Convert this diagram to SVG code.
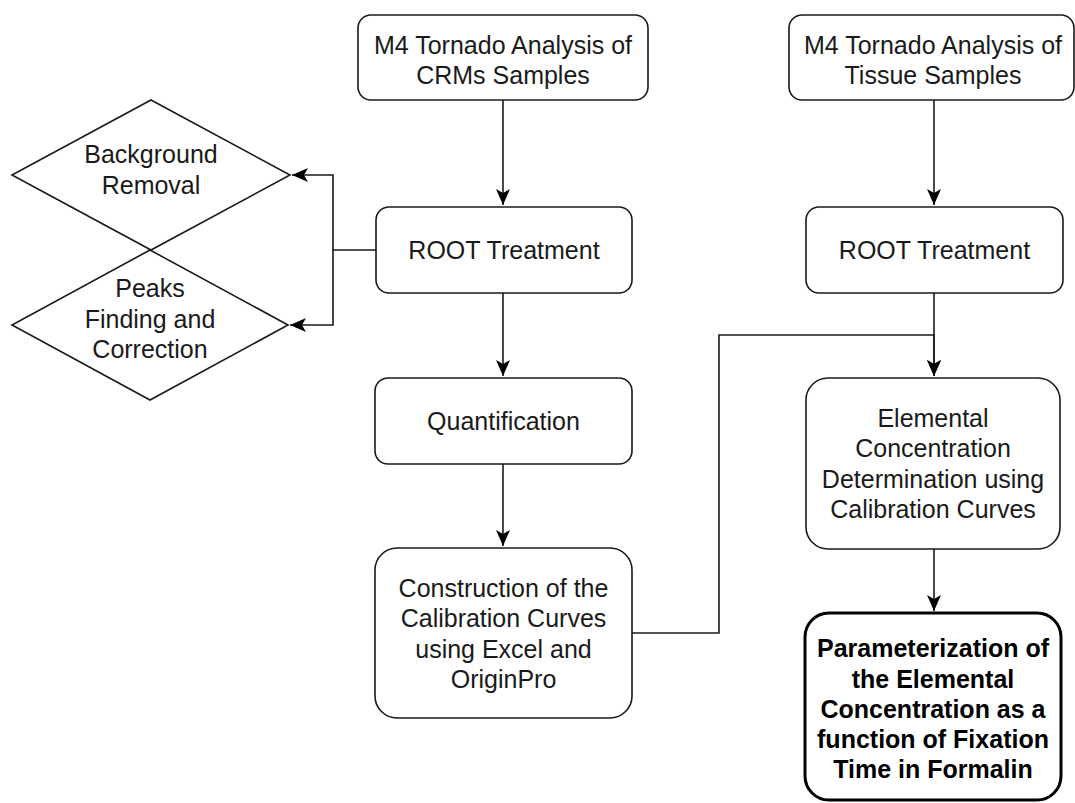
<svg xmlns="http://www.w3.org/2000/svg" width="1075" height="803" viewBox="0 0 1075 803">
<defs>
<style>
.box{fill:#fff;stroke:#1a1a1a;stroke-width:1.6}
.bold{fill:#fff;stroke:#000;stroke-width:3}
.t{font-family:"Liberation Sans",Arial,sans-serif;font-size:25px;fill:#1a1a1a;text-anchor:middle}
.tb{font-family:"Liberation Sans",Arial,sans-serif;font-size:25px;font-weight:bold;fill:#000;text-anchor:middle}
.c{fill:none;stroke:#1a1a1a;stroke-width:1.6}
</style>
<marker id="arr" markerUnits="userSpaceOnUse" markerWidth="18" markerHeight="16" refX="16" refY="7" orient="auto">
<path d="M0,0 L16,7 L0,14 L4,7 Z" fill="#000"/>
</marker>
</defs>
<rect width="1075" height="803" fill="#fff"/>
<g id="connectors">
<path class="c" d="M503,100 V205" marker-end="url(#arr)"/>
<path class="c" d="M934,100 V205" marker-end="url(#arr)"/>
<path class="c" d="M503,293 V376" marker-end="url(#arr)"/>
<path class="c" d="M503,464 V546" marker-end="url(#arr)"/>
<path class="c" d="M934,293 V376" marker-end="url(#arr)"/>
<path class="c" d="M632,633 H719 V335 H934 V376" marker-end="url(#arr)"/>
<path class="c" d="M934,549 V611" marker-end="url(#arr)"/>
<path class="c" d="M376,250 H333 V175 H292" marker-end="url(#arr)"/>
<path class="c" d="M333,250 V325 H290" marker-end="url(#arr)"/>
</g>
<g id="bg-removal">
<polygon class="box" points="151,100 290,175 151,250 12,175"/>
<text class="t" x="151" y="163">Background</text>
<text class="t" x="151" y="194">Removal</text>
</g>
<g id="peaks">
<polygon class="box" points="150,250 288,325 150,400 12,325" style="fill:none"/>
<text class="t" x="150" y="297">Peaks</text>
<text class="t" x="150" y="328">Finding and</text>
<text class="t" x="150" y="358">Correction</text>
</g>
<g id="crm-analysis">
<rect class="box" x="358" y="15" width="290" height="85" rx="13"/>
<text class="t" x="503" y="54">M4 Tornado Analysis of</text>
<text class="t" x="503" y="84">CRMs Samples</text>
</g>
<g id="tissue-analysis">
<rect class="box" x="789" y="15" width="285" height="85" rx="13"/>
<text class="t" x="933" y="54">M4 Tornado Analysis of</text>
<text class="t" x="933" y="84">Tissue Samples</text>
</g>
<g id="root-left">
<rect class="box" x="376" y="207" width="256" height="86" rx="13"/>
<text class="t" x="504" y="259">ROOT Treatment</text>
</g>
<g id="root-right">
<rect class="box" x="806" y="207" width="257" height="86" rx="13"/>
<text class="t" x="934.5" y="259">ROOT Treatment</text>
</g>
<g id="quantification">
<rect class="box" x="375" y="378" width="257" height="86" rx="13"/>
<text class="t" x="503.5" y="430">Quantification</text>
</g>
<g id="construction">
<rect class="box" x="375" y="548" width="257" height="170" rx="22"/>
<text class="t" x="503.5" y="597">Construction of the</text>
<text class="t" x="503.5" y="627">Calibration Curves</text>
<text class="t" x="503.5" y="658">using Excel and</text>
<text class="t" x="503.5" y="688">OriginPro</text>
</g>
<g id="elemental">
<rect class="box" x="806" y="378" width="254" height="171" rx="22"/>
<text class="t" x="933" y="427">Elemental</text>
<text class="t" x="933" y="457">Concentration</text>
<text class="t" x="933" y="488">Determination using</text>
<text class="t" x="933" y="518">Calibration Curves</text>
</g>
<g id="parameterization">
<rect class="bold" x="805" y="613" width="256" height="187" rx="24"/>
<text class="tb" x="933" y="657">Parameterization of</text>
<text class="tb" x="933" y="688">the Elemental</text>
<text class="tb" x="933" y="718">Concentration as a</text>
<text class="tb" x="933" y="748">function of Fixation</text>
<text class="tb" x="933" y="778">Time in Formalin</text>
</g>
</svg>
